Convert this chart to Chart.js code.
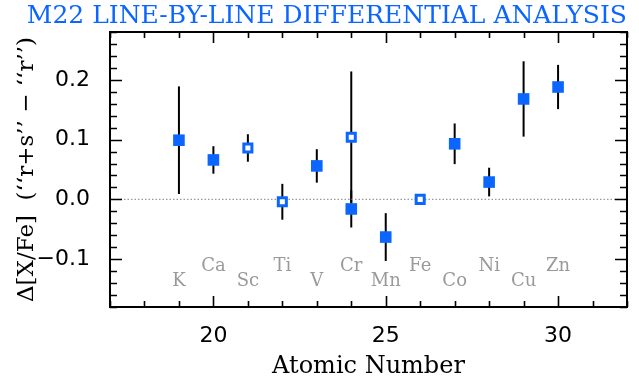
<!DOCTYPE html>
<html>
<head>
<meta charset="utf-8">
<script src="https://cdn.jsdelivr.net/npm/chart.js@4"></script>
<style>
  html, body { margin: 0; padding: 0; background: #fff; }
  #wrap { width: 639px; height: 378px; }
</style>
</head>
<body>
<div id="wrap"><canvas id="chart1"></canvas></div>
<script>
// element labels along the bottom, Z = 19..30
const elements = ['K', 'Ca', 'Sc', 'Ti', 'V', 'Cr', 'Mn', 'Fe', 'Co', 'Ni', 'Cu', 'Zn'];
const atomicNumbers = [19, 20, 21, 22, 23, 24, 25, 26, 27, 28, 29, 30];

// filled squares
const filledZ = [19, 20, 23, 24, 25, 27, 28, 29, 30];
const filledVal = [0.099, 0.066, 0.056, -0.016, -0.063, 0.093, 0.029, 0.168, 0.188];
const filledErr = [0.090, 0.023, 0.028, 0.031, 0.040, 0.034, 0.024, 0.063, 0.037];

// open squares
const openZ = [21, 22, 24, 26];
const openVal = [0.086, -0.004, 0.104, 0.000];
const openErr = [0.023, 0.030, 0.110, 0];

const xTickValues = [20, 25, 30];
const yTickValues = [-0.1, 0.0, 0.1, 0.2];

const blue = '#0b66ff';
const gray = '#9a9a9a';
const serif = 'DejaVu Serif';

function toPoints(xs, ys, errs) {
  return xs.map((x, i) => ({x: x, y: ys[i], err: errs[i]}));
}

// error bars (black), drawn under the markers
const errorBars = {
  id: 'errorBars',
  beforeDatasetsDraw(chart) {
    const ctx = chart.ctx;
    const xs = chart.scales.x, ys = chart.scales.y;
    ctx.save();
    ctx.strokeStyle = '#000';
    ctx.lineWidth = 2;
    chart.data.datasets.forEach(ds => {
      ds.data.forEach(p => {
        if (!p.err) return;
        const px = xs.getPixelForValue(p.x);
        ctx.beginPath();
        ctx.moveTo(px, ys.getPixelForValue(p.y + p.err));
        ctx.lineTo(px, ys.getPixelForValue(p.y - p.err));
        ctx.stroke();
      });
    });
    // dotted zero line
    const y0 = ys.getPixelForValue(0);
    ctx.strokeStyle = gray;
    ctx.lineWidth = 1.3;
    ctx.setLineDash([1.5, 2]);
    ctx.beginPath();
    ctx.moveTo(chart.chartArea.left, y0);
    ctx.lineTo(chart.chartArea.right, y0);
    ctx.stroke();
    ctx.restore();
  }
};

// element names, alternating between two rows
const elementLabels = {
  id: 'elementLabels',
  afterDatasetsDraw(chart) {
    const ctx = chart.ctx;
    const xs = chart.scales.x, ys = chart.scales.y;
    ctx.save();
    ctx.fillStyle = gray;
    ctx.font = '18px "' + serif + '"';
    ctx.textAlign = 'center';
    ctx.textBaseline = 'middle';
    elements.forEach((el, i) => {
      const yv = i % 2 == 0 ? -0.137 : -0.112;
      ctx.fillText(el, xs.getPixelForValue(atomicNumbers[i]), ys.getPixelForValue(yv));
    });
    ctx.restore();
  }
};

// box with inward ticks on all four sides
const frame = {
  id: 'frame',
  afterDraw(chart) {
    const ctx = chart.ctx;
    const {left, right, top, bottom} = chart.chartArea;
    const xs = chart.scales.x, ys = chart.scales.y;
    ctx.save();
    ctx.strokeStyle = '#000';
    ctx.lineWidth = 1.6;
    ctx.beginPath();
    for (let v = Math.ceil(xs.min); v <= xs.max; v++) {
      const px = Math.round(xs.getPixelForValue(v)) + 0.5;
      const len = v % 5 == 0 ? 11 : 6;
      ctx.moveTo(px, bottom); ctx.lineTo(px, bottom - len);
      ctx.moveTo(px, top); ctx.lineTo(px, top + len);
    }
    for (let k = Math.ceil(ys.min / 0.02 - 1e-6); k * 0.02 <= ys.max + 1e-9; k++) {
      const py = Math.round(ys.getPixelForValue(k * 0.02)) + 0.5;
      const len = k % 5 == 0 ? 12 : 7;
      ctx.moveTo(left, py); ctx.lineTo(left + len, py);
      ctx.moveTo(right, py); ctx.lineTo(right - len, py);
    }
    ctx.stroke();
    ctx.lineWidth = 2;
    ctx.strokeRect(left, top, right - left, bottom - top);
    ctx.restore();
  }
};

const ctx = document.getElementById('chart1');

const myChart = new Chart(ctx, {
  type: 'scatter',
  data: {
    datasets: [{
      label: 'filled',
      data: toPoints(filledZ, filledVal, filledErr),
      pointStyle: 'rect',
      pointRadius: 8.2,
      backgroundColor: blue,
      borderColor: blue,
      borderWidth: 0
    }, {
      label: 'open',
      data: toPoints(openZ, openVal, openErr),
      pointStyle: 'rect',
      pointRadius: 5.7,
      backgroundColor: '#fff',
      borderColor: blue,
      borderWidth: 3
    }]
  },
  options: {
    responsive: true,
    maintainAspectRatio: false,
    animation: false,
    layout: { padding: { left: 0, right: 12, top: 0, bottom: 0 } },
    plugins: {
      legend: { display: false },
      tooltip: { enabled: false },
      title: {
        display: true,
        text: 'M22 LINE-BY-LINE DIFFERENTIAL ANALYSIS',
        align: 'end',
        color: blue,
        font: { family: serif, size: 25, weight: 'normal', lineHeight: 1 },
        padding: { top: 4, bottom: 3 }
      }
    },
    scales: {
      x: {
        type: 'linear',
        min: 17,
        max: 32,
        grid: { display: false },
        border: { display: false },
        afterBuildTicks: s => { s.ticks = xTickValues.map(v => ({value: v})); },
        afterFit: s => { s.height = 71; },
        ticks: {
          color: '#000',
          padding: 8,
          maxRotation: 0,
          font: { family: 'DejaVu Sans', size: 22 }
        },
        title: {
          display: true,
          text: 'Atomic Number',
          color: '#000',
          font: { family: serif, size: 24, lineHeight: 0.9 },
          padding: { top: 0, bottom: 0 }
        }
      },
      y: {
        min: -0.18,
        max: 0.28,
        grid: { display: false },
        border: { display: false },
        afterBuildTicks: s => { s.ticks = yTickValues.map(v => ({value: v})); },
        afterFit: s => { s.width = 110; },
        ticks: {
          color: '#000',
          padding: 12,
          font: { family: 'DejaVu Sans', size: 22 },
          callback: v => (v < -1e-9 ? '\u2212' : '') + Math.abs(v).toFixed(1)
        },
        title: {
          display: true,
          text: 'Δ[X/Fe]  (‘‘r+s’’ − ‘‘r’’)',
          color: '#000',
          font: { family: serif, size: 23, lineHeight: 1 },
          padding: { top: 16, bottom: 0 }
        }
      }
    }
  },
  plugins: [errorBars, elementLabels, frame]
});
</script>
</body>
</html>
